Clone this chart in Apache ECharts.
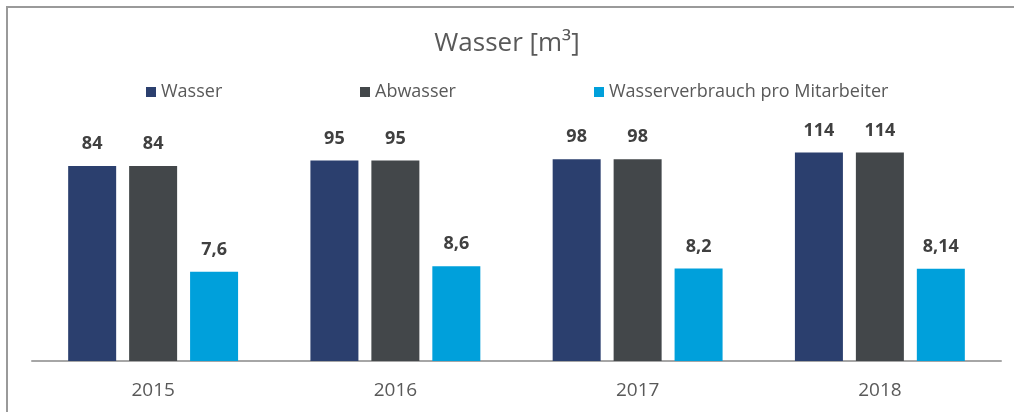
<!DOCTYPE html>
<html>
<head>
<meta charset="utf-8">
<script src="https://cdn.jsdelivr.net/npm/echarts@6/dist/echarts.min.js"></script>
<style>
  html, body { margin: 0; padding: 0; background: #fff; }
  #chart { width: 1014px; height: 412px; }
</style>
</head>
<body>
<div id="chart"></div>
<script>
var years = ['2015', '2016', '2017', '2018'];
var wasser = [84, 95, 98, 114];
var abwasser = [84, 95, 98, 114];
var proMitarbeiter = [7.6, 8.6, 8.2, 8.14];

var seriesNames = ['Wasser', 'Abwasser', 'Wasserverbrauch pro Mitarbeiter'];
var seriesColors = ['#2B3F6E', '#43474A', '#00A0DB'];
var legendLeft = [141, 355, 589];

// Zahlen mit Komma wie im Original
function deNum(p) {
    return String(p.value).replace('.', ',');
}

function makeBar(name, data, color) {
    return {
        name: name,
        type: 'bar',
        data: data,
        barWidth: 48,
        barGap: '27%',
        itemStyle: { color: color },
        label: {
            show: true,
            position: 'top',
            distance: 13,
            formatter: deNum,
            fontFamily: 'Open Sans',
            fontWeight: 'bold',
            fontSize: 18,
            color: '#404040'
        }
    };
}

// eine Legende pro Eintrag, damit die Abstände wie im Original sind
var legends = seriesNames.map(function (n, i) {
    return {
        data: [n],
        left: legendLeft[i],
        top: 78,
        icon: 'rect',
        itemWidth: 10,
        itemHeight: 10,
        textStyle: { fontFamily: 'Open Sans', fontSize: 18, color: '#595959' }
    };
});

var chart = echarts.init(document.getElementById('chart'));
chart.setOption({
    animation: false,
    textStyle: { fontFamily: 'Open Sans' },
    title: {
        text: 'Wasser [m³]',
        left: 'center',
        top: 26,
        textStyle: { fontFamily: 'Open Sans', fontSize: 26, fontWeight: 'normal', color: '#595959' }
    },
    legend: legends,
    graphic: [{
        type: 'rect',
        shape: { x: 7, y: 7, width: 1030, height: 430 },
        style: { fill: null, stroke: '#9A9A9A', lineWidth: 2 },
        silent: true
    }],
    grid: { left: 32, right: 13, top: 57, bottom: 51 },
    xAxis: {
        type: 'category',
        data: years,
        axisTick: { show: false },
        axisLine: { lineStyle: { color: '#A6A6A6', width: 2 } },
        axisLabel: { fontFamily: 'Open Sans', fontSize: 19, color: '#595959', margin: 20 }
    },
    yAxis: {
        type: 'log',
        logBase: 10,
        min: 1,
        max: 1000,
        show: false,
        splitLine: { show: false }
    },
    series: [
        makeBar(seriesNames[0], wasser, seriesColors[0]),
        makeBar(seriesNames[1], abwasser, seriesColors[1]),
        makeBar(seriesNames[2], proMitarbeiter, seriesColors[2])
    ]
});
</script>
</body>
</html>
